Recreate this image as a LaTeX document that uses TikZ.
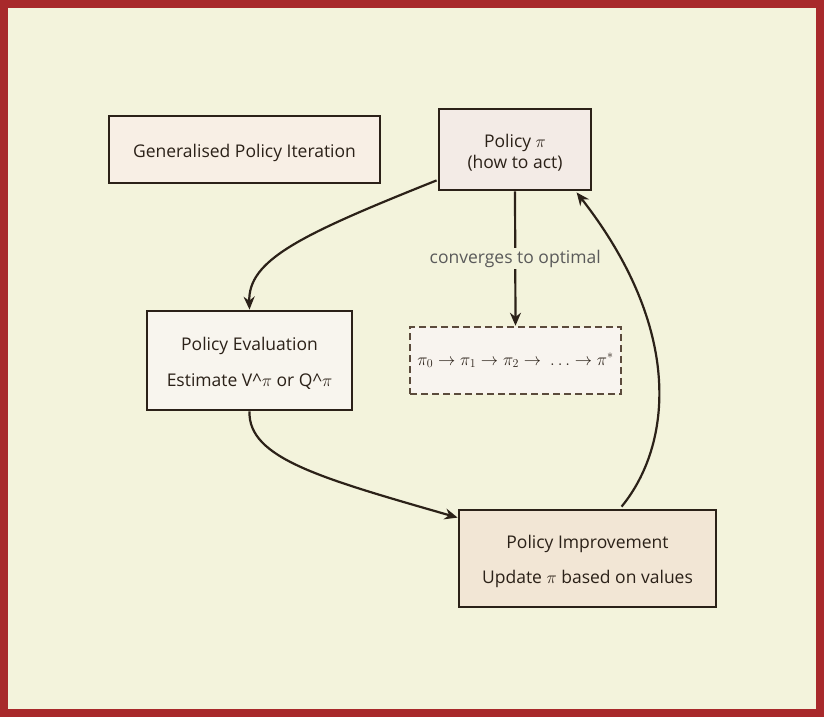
\documentclass[tikz,border=0pt]{standalone}
\usepackage{fontspec}
\setmainfont{Open Sans}
\usetikzlibrary{arrows.meta,calc}
\definecolor{frame}{HTML}{A8292B}
\definecolor{bg}{HTML}{F3F3DC}
\definecolor{ink}{HTML}{2B2118}
\definecolor{gpifill}{HTML}{F8EFE5}
\definecolor{polfill}{HTML}{F3EBE6}
\definecolor{evalfill}{HTML}{F8F5EE}
\definecolor{impfill}{HTML}{F2E6D5}
\definecolor{seqfill}{HTML}{F8F4EF}
\definecolor{seqline}{HTML}{5B4B3C}
\definecolor{lbl}{HTML}{5A5A5A}
\begin{document}
\begin{tikzpicture}[x=1pt,y=-1pt,
  box/.style={draw=ink, line width=2.8pt, rectangle, inner sep=0pt},
  txt/.style={align=center, inner sep=0pt, font=\fontsize{17.5}{21}\selectfont, text=ink, yshift=-3pt},
  seqbox/.style={draw=seqline, line width=2.5pt, dash pattern=on 7pt off 4pt, fill=seqfill,
    rectangle, inner sep=0pt, text=ink, font=\fontsize{16.5}{20}\selectfont},
  conn/.style={draw=ink, line width=2.2pt, -{Stealth[length=13pt,width=11pt]}},
  lab/.style={text=lbl, fill=bg, inner sep=2pt, font=\fontsize{17.5}{21}\selectfont}]
\useasboundingbox (0,0) rectangle (824,717);
\fill[frame] (0,0) rectangle (824,717);
\fill[bg] (8,8) rectangle (816,709);

\node[box, fill=gpifill, minimum width=271pt, minimum height=67pt] (gpi) at (244.5,149.5) {};
\node[txt] (gpit) at (gpi.center) {Generalised Policy Iteration};
\node[box, fill=polfill, minimum width=152pt, minimum height=81pt] (pol) at (515,149.5) {};
\node[txt] (polt) at (pol.center) {Policy $\pi$\\(how to act)};
\node[box, fill=evalfill, minimum width=205pt, minimum height=99pt] (eval) at (249.5,360.5) {};
\node[txt] (evalt) at (eval.center) {Policy Evaluation\\[15pt]Estimate V\textasciicircum$\pi$ or Q\textasciicircum$\pi$};
\node[seqbox, minimum width=211pt, minimum height=67pt] (seq) at (515.5,360.5) {$\pi_0 \rightarrow \pi_1 \rightarrow \pi_2 \rightarrow \ \ldots \rightarrow \pi^{*}$};
\node[box, fill=impfill, minimum width=257pt, minimum height=97pt] (imp) at (587.5,558.5) {};
\node[txt] (impt) at (imp.center) {Policy Improvement\\[14pt]Update $\pi$ based on values};

\draw[conn] ($(pol.south west)+(-1,-11)$) .. controls (300,235) and (248,260) .. (eval.north);
\draw[conn] (eval.south) .. controls (248,458) and (320,478) .. ($(imp.north west)+(0,9)$);
\draw[conn] ($(imp.north west)+(164,-2)$) .. controls (672,445) and (684,330) .. ($(pol.south west)+(139,1)$);
\draw[conn] (pol.south) -- (seq.north) node[lab, pos=0.5] (cv) {converges to optimal};
\end{tikzpicture}
\end{document}
